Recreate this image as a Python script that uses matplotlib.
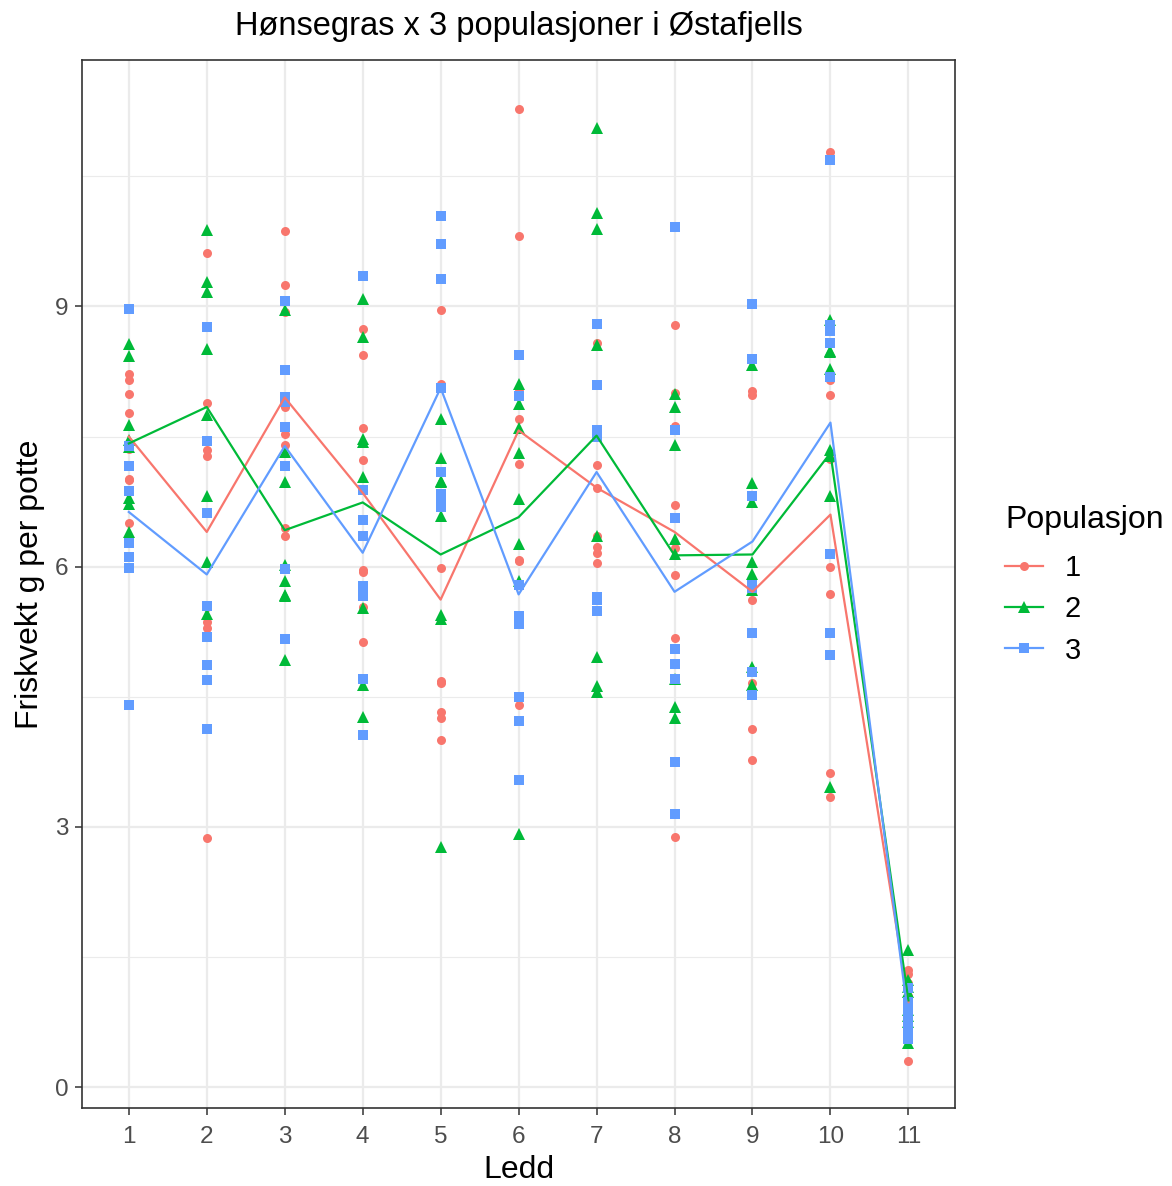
import numpy as np
import matplotlib
matplotlib.use("Agg")
import matplotlib.pyplot as plt
from matplotlib.lines import Line2D

plt.rcParams["font.family"] = ["Liberation Sans", "DejaVu Sans"]

# values, one list per Ledd (1..11)
ledd = list(range(1, 12))
pop1 = [
    [8.22, 8.15, 7.99, 7.77, 7.36, 7.01, 7.00, 6.50],
    [9.62, 7.89, 7.35, 7.28, 5.54, 5.36, 5.29, 2.87],
    [9.87, 9.25, 8.93, 7.84, 7.53, 7.40, 6.45, 6.35],
    [8.74, 8.44, 7.60, 7.23, 5.96, 5.94, 5.53, 5.13],
    [8.96, 8.10, 5.99, 4.68, 4.66, 4.32, 4.25, 4.00],
    [11.28, 9.81, 8.02, 7.70, 7.18, 6.08, 6.06, 4.41],
    [8.58, 8.09, 7.17, 6.91, 6.35, 6.23, 6.16, 6.04],
    [8.78, 8.00, 7.62, 6.71, 6.21, 5.90, 5.18, 2.88],
    [8.03, 7.98, 5.78, 5.72, 5.61, 4.66, 4.13, 3.77],
    [10.78, 8.15, 7.98, 7.24, 6.00, 5.68, 3.62, 3.35],
    [1.35, 1.30, 1.20, 1.05, 1.00, 0.95, 0.70, 0.30],
]
pop2 = [
    [8.57, 8.43, 7.63, 7.46, 7.38, 6.79, 6.72, 6.40],
    [9.88, 9.28, 9.17, 8.51, 7.75, 6.82, 6.05, 5.45],
    [8.96, 7.32, 6.98, 6.02, 5.83, 5.67, 5.66, 4.92],
    [9.09, 8.65, 7.47, 7.44, 7.03, 5.52, 4.63, 4.27],
    [7.70, 7.25, 6.99, 6.97, 6.58, 5.44, 5.40, 2.77],
    [8.11, 7.87, 7.60, 7.31, 6.78, 6.26, 5.84, 2.92],
    [11.06, 10.08, 9.89, 8.55, 6.35, 4.96, 4.62, 4.55],
    [7.99, 7.84, 7.40, 6.32, 6.15, 4.71, 4.38, 4.25],
    [8.32, 6.96, 6.74, 6.05, 5.92, 5.73, 4.84, 4.64],
    [8.84, 8.49, 8.47, 8.28, 7.34, 7.28, 6.82, 3.46],
    [1.58, 1.23, 1.15, 1.10, 0.89, 0.82, 0.75, 0.51],
]
pop3 = [
    [8.97, 7.39, 7.16, 6.87, 6.27, 6.11, 5.98, 4.40],
    [8.76, 7.45, 6.62, 5.55, 5.19, 4.87, 4.69, 4.13],
    [9.06, 8.27, 7.96, 7.90, 7.61, 7.16, 5.97, 5.17],
    [9.35, 6.88, 6.54, 6.35, 5.78, 5.66, 4.71, 4.06],
    [10.04, 9.72, 9.31, 8.06, 7.09, 6.84, 6.73, 6.69],
    [8.44, 7.97, 5.79, 5.43, 5.34, 4.50, 4.22, 3.54],
    [8.80, 8.09, 7.58, 7.54, 7.50, 5.65, 5.62, 5.49],
    [9.91, 7.58, 6.56, 5.05, 4.88, 4.71, 3.75, 3.15],
    [9.03, 8.39, 6.81, 5.79, 5.75, 5.24, 4.79, 4.52],
    [10.69, 8.79, 8.72, 8.58, 8.19, 6.14, 5.24, 4.98],
    [1.14, 0.98, 0.90, 0.80, 0.72, 0.66, 0.60, 0.55],
]
# mean lines as drawn in the reference
mean1 = [7.50, 6.40, 7.95, 6.85, 5.62, 7.57, 6.91, 6.40, 5.71, 6.60, 0.98]
mean2 = [7.42, 7.84, 6.42, 6.74, 6.14, 6.57, 7.51, 6.13, 6.14, 7.31, 1.00]
mean3 = [6.63, 5.91, 7.39, 6.16, 8.06, 5.68, 7.09, 5.71, 6.29, 7.66, 0.80]

groups = ["1", "2", "3"]
colors = ["#F8766D", "#00BA38", "#619CFF"]
markers = ["o", "^", "s"]
msizes = [6.5, 8, 7]

fig = plt.figure(figsize=(11.72, 11.86), dpi=100)
ax = fig.add_axes([0.070, 0.0658, 0.745, 0.8836])

for pts, means, col, mk, ms in zip([pop1, pop2, pop3], [mean1, mean2, mean3],
                                   colors, markers, msizes):
    xs = np.repeat(ledd, [len(p) for p in pts])
    ys = np.concatenate(pts)
    ax.plot(xs, ys, linestyle="none", marker=mk, ms=ms, color=col,
            markeredgewidth=0, zorder=3)
    ax.plot(ledd, means, color=col, lw=1.6, zorder=4)

ax.set_xlim(0.4, 11.6)
ax.set_ylim(-0.24, 11.84)
ax.set_xticks(ledd)
ax.set_yticks([0, 3, 6, 9])
ax.set_yticks([1.5, 4.5, 7.5, 10.5], minor=True)
ax.grid(which="major", color="#EBEBEB", lw=1.6)
ax.grid(which="minor", axis="y", color="#EBEBEB", lw=0.8)
ax.set_axisbelow(True)
for s in ax.spines.values():
    s.set_color("#333333")
    s.set_linewidth(1.2)
ax.tick_params(which="major", length=5, width=1.1, color="#333333",
               labelsize=17.5, labelcolor="#4D4D4D", pad=5)
ax.tick_params(axis="x", pad=8)
ax.tick_params(which="minor", length=0)

ax.set_xlabel("Ledd", fontsize=23, labelpad=5)
ax.set_ylabel("Friskvekt g per potte", fontsize=23, labelpad=7)
ax.set_title("Hønsegras x 3 populasjoner i Østafjells", fontsize=23.5, pad=18)

handles = [Line2D([], [], color=c, marker=m, ms=s, markeredgewidth=0, lw=1.6)
           for c, m, s in zip(colors, markers, msizes)]
leg = fig.legend(handles, groups, title="Populasjon", loc="center left",
                 bbox_to_anchor=(0.8575, 0.507), frameon=False, fontsize=21,
                 title_fontsize=23, handlelength=1.3, labelspacing=0.45,
                 handletextpad=0.75, borderpad=0, borderaxespad=0)
leg._legend_box.align = "left"
leg._legend_box.sep = 14

fig.savefig("out.png", dpi=100)
